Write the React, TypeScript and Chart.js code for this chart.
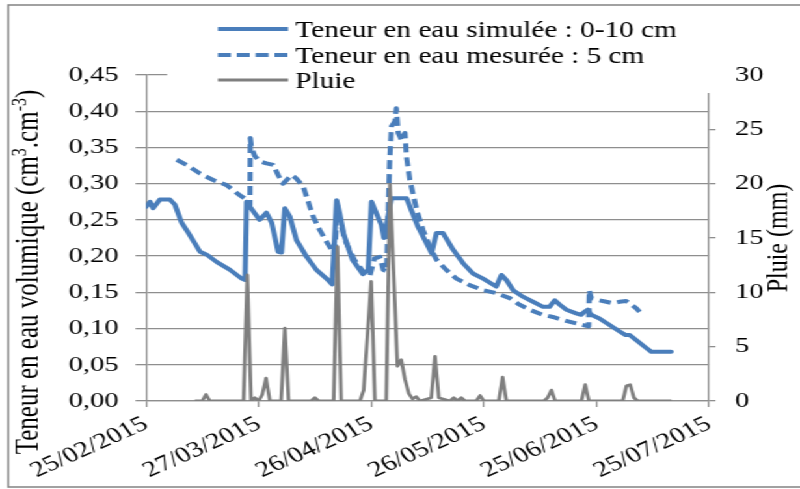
import React, { useEffect, useRef } from "react";
import { Chart, registerables } from "chart.js";
Chart.register(...registerables);

// ---------- data (x = days since 25/02/2015) ----------
const simDays = [0, 1.1, 1.9, 3.7, 6.4, 7.7, 9.5, 11.3, 14.4, 16.2, 18.8, 22.4, 25.5, 26.4, 26.8, 27.7, 30.3, 32.1, 33.5, 35.2, 36.1, 37.0, 38.3, 40.1, 42.8, 45.4, 48.1, 49.6, 50.8, 51.6, 52.7, 55.0, 57.8, 59.2, 60.1, 61.4, 62.7, 63.4, 65.4, 69.4, 72.5, 74.7, 76.1, 77.4, 79.1, 81.8, 84.5, 87.1, 89.8, 93.3, 94.7, 96.0, 97.8, 100.4, 103.1, 105.8, 107.5, 108.9, 110.2, 112.0, 114.6, 115.9, 116.8, 117.7, 118.6, 120.8, 123.5, 126.2, 127.8, 128.9, 130.6, 132.8, 134.6, 139.9];
const simValues = [0.268, 0.275, 0.266, 0.278, 0.278, 0.271, 0.246, 0.232, 0.206, 0.202, 0.192, 0.181, 0.169, 0.167, 0.275, 0.268, 0.250, 0.260, 0.246, 0.206, 0.205, 0.266, 0.255, 0.222, 0.199, 0.181, 0.169, 0.161, 0.277, 0.259, 0.230, 0.195, 0.175, 0.181, 0.275, 0.259, 0.243, 0.225, 0.280, 0.280, 0.240, 0.218, 0.204, 0.232, 0.232, 0.209, 0.190, 0.176, 0.169, 0.158, 0.174, 0.167, 0.153, 0.144, 0.137, 0.130, 0.130, 0.139, 0.133, 0.126, 0.121, 0.119, 0.123, 0.126, 0.119, 0.114, 0.105, 0.096, 0.091, 0.091, 0.084, 0.075, 0.068, 0.068];

const mesDays = [8.2, 10.8, 14.4, 17.9, 21.5, 25.0, 26.8, 27.7, 27.8, 28.1, 29.0, 30.3, 32.1, 33.9, 35.2, 36.5, 38.8, 40.1, 41.9, 42.8, 44.5, 46.3, 48.1, 49.4, 50.3, 51.0, 51.6, 53.0, 55.5, 57.8, 59.6, 60.9, 62.3, 63.2, 64.1, 64.9, 65.4, 66.3, 66.7, 67.2, 68.1, 69.0, 69.4, 70.3, 72.1, 73.8, 75.6, 77.4, 80.0, 82.7, 86.2, 89.8, 93.3, 96.9, 99.5, 102.2, 105.7, 108.4, 111.0, 114.6, 117.9, 118.1, 118.6, 120.8, 122.6, 124.4, 126.2, 127.9, 129.3, 130.6, 131.5];
const mesValues = [0.333, 0.326, 0.314, 0.305, 0.298, 0.284, 0.278, 0.270, 0.363, 0.350, 0.338, 0.331, 0.328, 0.326, 0.312, 0.300, 0.312, 0.307, 0.296, 0.282, 0.255, 0.236, 0.220, 0.209, 0.204, 0.270, 0.250, 0.222, 0.195, 0.179, 0.172, 0.197, 0.199, 0.181, 0.179, 0.328, 0.379, 0.386, 0.404, 0.370, 0.360, 0.370, 0.337, 0.305, 0.264, 0.236, 0.213, 0.195, 0.181, 0.169, 0.160, 0.153, 0.149, 0.142, 0.133, 0.126, 0.119, 0.116, 0.112, 0.107, 0.103, 0.153, 0.142, 0.139, 0.137, 0.135, 0.137, 0.138, 0.133, 0.128, 0.123];

const rainDays = [13, 15, 16, 17, 26, 27, 28, 29, 30, 31, 32, 33, 36, 37, 38, 44, 45, 46, 50, 51, 52, 57, 58, 60, 61, 64, 65, 67, 68, 69, 70, 71, 72, 73, 76, 77, 78, 81, 82, 83, 84, 85, 88, 89, 90, 94, 95, 96, 106, 107, 108, 109, 116, 117, 118, 127, 128, 129, 130, 131, 140];
const rainValues = [0, 0, 0.6, 0, 0, 11.6, 0, 0.3, 0, 0.6, 2.1, 0, 0, 6.7, 0, 0, 0.3, 0, 0, 14.2, 0, 0, 1.0, 11.0, 0, 0, 19.9, 3.2, 3.8, 2.0, 0.7, 0.2, 0.4, 0, 0.3, 4.1, 0.3, 0, 0.3, 0, 0.3, 0, 0, 0.5, 0, 0, 2.2, 0, 0, 0.3, 1.0, 0, 0, 1.5, 0, 0, 1.4, 1.5, 0.3, 0, 0];

const xTickDays = [0, 30, 60, 90, 120, 150];
const legendLabels = ["Teneur en eau simulée : 0-10 cm", "Teneur en eau mesurée : 5 cm", "Pluie"];
const leftTitle = ["Teneur en eau volumique (cm", "3", ".cm", "-3", ")"];
const rightTitle = "Pluie (mm)";

// ---------- style ----------
const W = 615;
const H = 489;
const SX = 800 / W;
const BLUE = "#4a7ebb";
const GREY = "#7f7f7f";
const GRID = "#8e8e8e";
const FONT = "'Liberation Serif', 'Times New Roman', serif";

function fmtDate(v: number) {
  const d = new Date(2015, 1, 25 + Math.round(v));
  const dd = String(d.getDate()).padStart(2, "0");
  const mm = String(d.getMonth() + 1).padStart(2, "0");
  return `${dd}/${mm}/${d.getFullYear()}`;
}

const decor = {
  id: "decor",
  afterDraw(chart: any) {
    const ctx = chart.ctx;
    ctx.save();
    // legend box (white background covering plot top)
    ctx.fillStyle = "#ffffff";
    ctx.fillRect(128.5, 7, 554 - 128.5, 93 - 7);
    // legend entries
    const rows = [
      { y: 29, color: BLUE, dash: [] as number[], width: 4 },
      { y: 55, color: BLUE, dash: [10, 4.5], width: 4 },
      { y: 80, color: GREY, dash: [] as number[], width: 3 },
    ];
    rows.forEach((r, i) => {
      ctx.beginPath();
      ctx.setLineDash(r.dash);
      ctx.strokeStyle = r.color;
      ctx.lineWidth = r.width;
      ctx.moveTo(167.5, r.y);
      ctx.lineTo(221.5, r.y);
      ctx.stroke();
      ctx.setLineDash([]);
      ctx.fillStyle = "#000";
      ctx.font = `22.5px ${FONT}`;
      ctx.textAlign = "left";
      ctx.textBaseline = "alphabetic";
      ctx.fillText(legendLabels[i], 227, r.y + 8);
    });
    // left axis title
    ctx.save();
    ctx.translate(22.5, 272);
    ctx.rotate(-Math.PI / 2);
    ctx.textBaseline = "middle";
    ctx.textAlign = "left";
    const mainFont = `25px ${FONT}`;
    const supFont = `16px ${FONT}`;
    let total = 0;
    leftTitle.forEach((t, i) => {
      ctx.font = i % 2 === 1 ? supFont : mainFont;
      total += ctx.measureText(t).width;
    });
    let x = -total / 2;
    leftTitle.forEach((t, i) => {
      const sup = i % 2 === 1;
      ctx.font = sup ? supFont : mainFont;
      ctx.fillStyle = "#000";
      ctx.fillText(t, x, sup ? -7 : 0);
      x += ctx.measureText(t).width;
    });
    ctx.restore();
    // right axis title
    ctx.save();
    ctx.translate(599, 238);
    ctx.rotate(-Math.PI / 2);
    ctx.textAlign = "center";
    ctx.textBaseline = "middle";
    ctx.font = `24px ${FONT}`;
    ctx.fillStyle = "#000";
    ctx.fillText(rightTitle, 0, 0);
    ctx.restore();
    // outer frame
    ctx.strokeStyle = "#8a8a8a";
    ctx.lineWidth = 1.6;
    ctx.strokeRect(6.3, 5, W + 20, 482);
    ctx.restore();
  },
};

export default function App() {
  const ref = useRef<HTMLCanvasElement | null>(null);
  useEffect(() => {
    document.body.style.margin = "0";
    const canvas = ref.current!;
    const sim = simDays.map((d, i) => ({ x: d, y: simValues[i] }));
    const mes = mesDays.map((d, i) => ({ x: d, y: mesValues[i] }));
    const rain = rainDays.map((d, i) => ({ x: d, y: rainValues[i] }));
    const tickFont = { family: FONT, size: 22 };
    const chart = new Chart(canvas, {
      type: "line",
      data: {
        datasets: [
          { label: legendLabels[0], data: sim, borderColor: BLUE, borderWidth: 4, pointRadius: 0, tension: 0, yAxisID: "y", order: 2, borderJoinStyle: "round", borderCapStyle: "round" },
          { label: legendLabels[1], data: mes, borderColor: BLUE, borderWidth: 4, borderDash: [9, 5], pointRadius: 0, tension: 0, yAxisID: "y", order: 1, borderJoinStyle: "round" },
          { label: legendLabels[2], data: rain, borderColor: GREY, borderWidth: 2.8, pointRadius: 0, tension: 0, yAxisID: "y2", order: 0, borderJoinStyle: "round" },
        ],
      },
      options: {
        responsive: false,
        animation: false,
        devicePixelRatio: 1,
        layout: { padding: { top: 75, left: 0, right: 0, bottom: 0 } },
        plugins: { legend: { display: false }, tooltip: { enabled: false } },
        scales: {
          x: {
            type: "linear",
            min: 0,
            max: 150,
            afterBuildTicks: (s: any) => { s.ticks = xTickDays.map((v) => ({ value: v })); },
            afterFit: (s: any) => { s.height = 88; },
            ticks: { callback: (v: any) => fmtDate(Number(v)), font: tickFont, color: "#000", maxRotation: 30, minRotation: 30, autoSkip: false, padding: 4 },
            grid: { drawOnChartArea: false, drawTicks: true, tickLength: 6, color: GRID, lineWidth: 1.3 },
            border: { color: GRID, width: 1.3 },
          },
          y: {
            position: "left",
            min: 0,
            max: 0.45,
            afterFit: (s: any) => { s.width = 112.2; },
            ticks: { stepSize: 0.05, callback: (v: any) => Number(v).toFixed(2).replace(".", ","), font: tickFont, color: "#000", padding: 13 },
            grid: { color: GRID, lineWidth: 1.3, tickLength: 8 },
            border: { color: GRID, width: 1.3 },
          },
          y2: {
            position: "right",
            min: 0,
            max: 30,
            afterFit: (s: any) => { s.width = W - 545.1; },
            ticks: { stepSize: 5, font: tickFont, color: "#000", padding: 15 },
            grid: { drawOnChartArea: false, color: GRID, lineWidth: 1.3, tickLength: 5 },
            border: { color: GRID, width: 1.3 },
          },
        },
      },
      plugins: [decor],
    } as any);
    return () => chart.destroy();
  }, []);
  return (
    <div style={{ width: W, height: H, transform: `scaleX(${SX})`, transformOrigin: "0 0", background: "#fff" }}>
      <canvas ref={ref} width={W} height={H} style={{ display: "block" }} />
    </div>
  );
}
